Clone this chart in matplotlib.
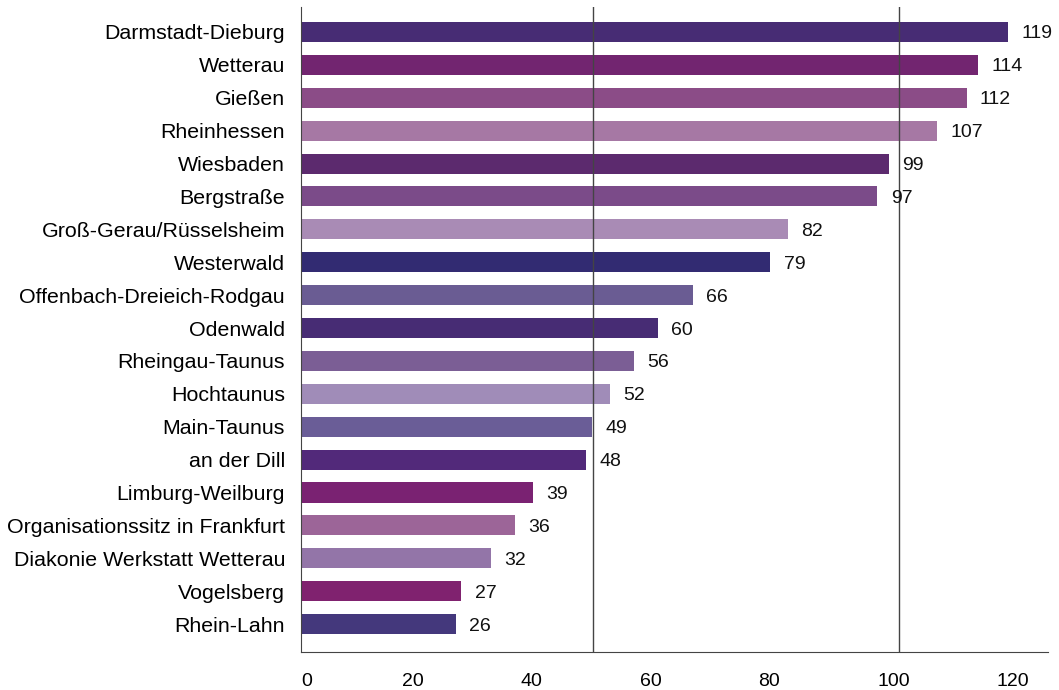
import matplotlib.pyplot as plt
import matplotlib.transforms as mtransforms

plt.rcParams['font.family'] = ['Liberation Sans', 'DejaVu Sans']

regionen = ['Darmstadt-Dieburg', 'Wetterau', 'Gießen', 'Rheinhessen', 'Wiesbaden',
            'Bergstraße', 'Groß-Gerau/Rüsselsheim', 'Westerwald',
            'Offenbach-Dreieich-Rodgau', 'Odenwald', 'Rheingau-Taunus', 'Hochtaunus',
            'Main-Taunus', 'an der Dill', 'Limburg-Weilburg',
            'Organisationssitz in Frankfurt', 'Diakonie Werkstatt Wetterau',
            'Vogelsberg', 'Rhein-Lahn']
werte = [119, 114, 112, 107, 99, 97, 82, 79, 66, 60, 56, 52, 49, 48, 39, 36, 32, 27, 26]
farben = ['#472c74', '#722570', '#8b4c87', '#a678a4', '#5c2a6e', '#7b4b89',
          '#a98bb5', '#322b72', '#6a5c93', '#472c74', '#7b5e95', '#a08cb8',
          '#6a5d97', '#52297a', '#7a2272', '#9c6598', '#9375a8', '#80226f',
          '#44387c']
xticks = [0, 20, 40, 60, 80, 100, 120]

fig = plt.figure(figsize=(10.59, 6.9), dpi=100)
ax = fig.add_axes([301 / 1059, 1 - 652 / 690, (1048 - 301) / 1059, (652 - 7) / 690])

pos = list(range(len(regionen)))
ax.barh(pos, werte, height=0.61, color=farben, zorder=2)

for y, v in zip(pos, werte):
    ax.annotate(str(v), (v, y), xytext=(9.5, 0), textcoords='offset points',
                ha='left', va='center_baseline', fontsize=14, color='#111111', zorder=4)

# Hilfslinien (im Original leicht versetzt)
for gx in [49.1, 100.6]:
    ax.axvline(gx, color='#444444', lw=1, zorder=3)

ax.set_xlim(0, 125.7)
ax.set_ylim(18.85, -0.76)
ax.set_yticks(pos)
ax.set_yticklabels(regionen, fontsize=15.4)
ax.set_xticks(xticks)
ax.set_xticklabels([str(t) for t in xticks], fontsize=14, ha='left')
ax.tick_params(axis='y', length=0, pad=11.5)
ax.tick_params(axis='x', length=0, pad=15)

# Beschriftungen links versetzt wie im Original
off = mtransforms.ScaledTranslation(-18 / 100, 0, fig.dpi_scale_trans)
for lab in ax.get_xticklabels()[1:]:
    lab.set_transform(lab.get_transform() + off)

for s in ['top', 'right']:
    ax.spines[s].set_visible(False)
ax.spines['left'].set_color('#444444')
ax.spines['bottom'].set_color('#444444')

plt.savefig('out.png', dpi=100)
